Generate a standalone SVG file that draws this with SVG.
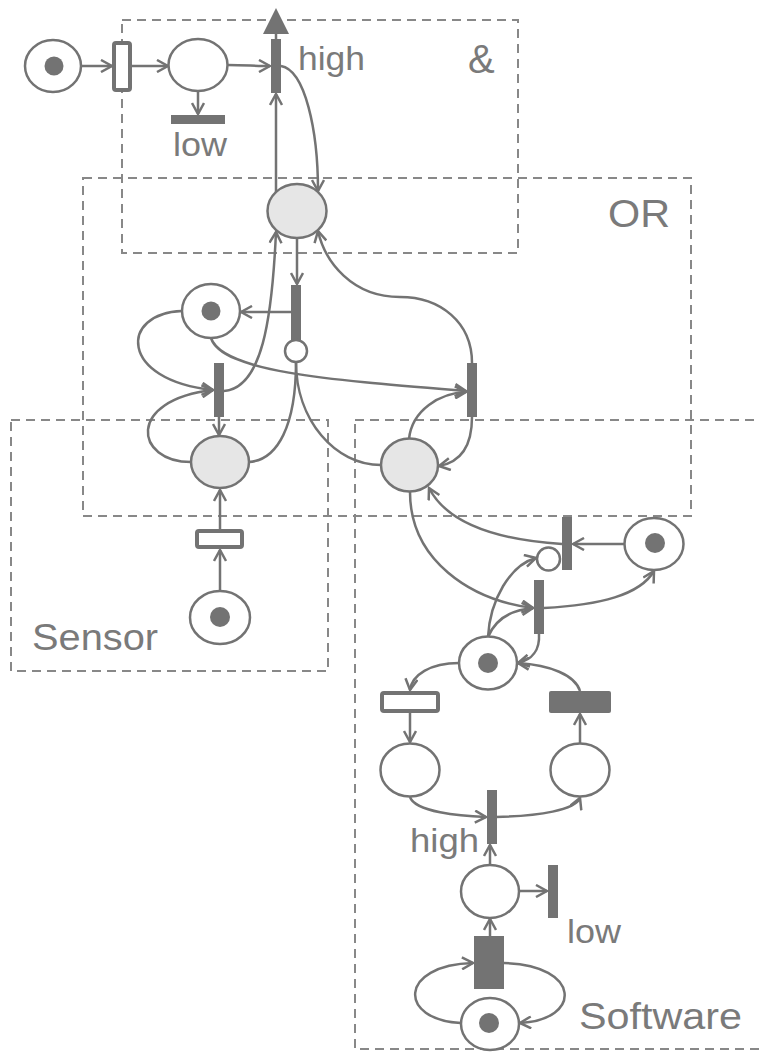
<svg xmlns="http://www.w3.org/2000/svg" width="760" height="1052" viewBox="0 0 760 1052">
<style>
.box{fill:none;stroke:#888;stroke-width:2;stroke-dasharray:9 6}
.pl{fill:#fff;stroke:#737373;stroke-width:2.5}
.sh{fill:#e6e6e6;stroke:#737373;stroke-width:2.5}
.tok{fill:#737373}
.bar{fill:#737373}
.hol{fill:#fff;stroke:#737373;stroke-width:4}
.inh{fill:#fff;stroke:#737373;stroke-width:2.5}
.c{fill:none;stroke:#737373;stroke-width:2.5}
.a{marker-end:url(#arr)}
.t{font-family:"Liberation Sans",Arial,sans-serif;fill:#7a7a7a}
</style>
<defs>
<marker id="arr" markerUnits="userSpaceOnUse" markerWidth="14" markerHeight="14" viewBox="0 0 14 14" refX="12" refY="7" orient="auto">
<path d="M1,1 L12,7 L1,13" fill="none" stroke="#737373" stroke-width="2.5"/>
</marker>
</defs>
<rect width="760" height="1052" fill="#fff"/>
<g id="groups">
<rect class="box" x="122" y="20" width="396" height="233"/>
<rect class="box" x="83" y="178" width="608" height="338"/>
<rect class="box" x="11" y="420" width="317" height="251"/>
<rect class="box" x="355" y="420" width="420" height="629"/>
<text class="t" x="468" y="73" font-size="40">&amp;</text>
<text class="t" x="608" y="227" font-size="38" textLength="62" lengthAdjust="spacingAndGlyphs">OR</text>
<text class="t" x="32" y="650" font-size="36" textLength="126" lengthAdjust="spacingAndGlyphs">Sensor</text>
<text class="t" x="579" y="1029" font-size="36" textLength="163" lengthAdjust="spacingAndGlyphs">Software</text>
</g>
<g id="connectors">
<path class="c a" d="M81,66 L112,66"/>
<path class="c a" d="M132,66 L168,66"/>
<path class="c a" d="M198,91 L198,114"/>
<path class="c a" d="M228,65 C245,65 255,66 270,66"/>
<path class="c" d="M276,39 L276,33"/>
<polygon points="263,34 289,34 276,8" fill="#737373"/>
<path class="c a" d="M276,192 L276,94"/>
<path class="c a" d="M281,66 C305,70 318,130 318,191"/>
<path class="c a" d="M297,238 L297,284"/>
<path class="c a" d="M291,312 L241,312"/>
<path class="c a" d="M182,311 C120,313 118,380 213,390"/>
<path class="c a" d="M191,462 C135,462 125,400 213,390"/>
<path class="c a" d="M219,417 L219,435"/>
<path class="c a" d="M224,391 C262,388 272,320 276,232"/>
<path class="c" d="M296,362 C296,425 278,460 249,462"/>
<path class="c" d="M296,362 C296,420 335,465 381,465"/>
<path class="c a" d="M211,338 C222,372 330,380 466,391"/>
<path class="c a" d="M409,439 C412,410 440,393 466,392"/>
<path class="c a" d="M472,417 C472,445 462,462 439,466"/>
<path class="c a" d="M472,363 C472,322 440,297 400,297 C352,297 325,262 318,231"/>
<path class="c a" d="M220,529 L220,490"/>
<path class="c a" d="M220,591 L220,550"/>
<path class="c a" d="M410,492 C410,560 470,600 533,608"/>
<path class="c a" d="M625,544 L573,544"/>
<path class="c a" d="M562,544 C500,540 448,525 429,488"/>
<path class="c a" d="M488,637 C490,600 510,565 536,558"/>
<path class="c a" d="M488,637 C495,620 510,610 533,608"/>
<path class="c a" d="M544,608 C600,605 640,595 654,571"/>
<path class="c a" d="M539,634 C540,650 532,660 518,663"/>
<path class="c a" d="M459,663 C430,663 412,675 410,690"/>
<path class="c a" d="M580,691 C575,675 550,665 518,663"/>
<path class="c a" d="M410,713 L410,742"/>
<path class="c a" d="M580,744 L580,714"/>
<path class="c a" d="M410,797 C415,812 460,816 486,817"/>
<path class="c a" d="M496,817 C540,816 575,810 580,798"/>
<path class="c a" d="M490,865 L490,845"/>
<path class="c a" d="M519,891 L547,891"/>
<path class="c a" d="M490,936 L490,919"/>
<path class="c a" d="M461,1023 C398,1020 398,965 473,963"/>
<path class="c a" d="M504,963 C582,965 582,1020 520,1023"/>
</g>
<g id="p_start"><ellipse class="pl" cx="53" cy="66" rx="28" ry="26"/><circle class="tok" cx="54" cy="66" r="9.5"/></g>
<g id="t_start"><rect class="hol" x="114" y="43" width="16" height="47" rx="2"/></g>
<g id="p_top"><ellipse class="pl" cx="198" cy="65" rx="29.5" ry="26"/></g>
<g id="t_low_top"><rect class="bar" x="171" y="115" width="54" height="9"/><text class="t" x="173" y="156" font-size="34" textLength="54" lengthAdjust="spacingAndGlyphs">low</text></g>
<g id="t_high_top"><rect class="bar" x="271" y="39" width="10" height="54"/><text class="t" x="298" y="70" font-size="34" textLength="67" lengthAdjust="spacingAndGlyphs">high</text></g>
<g id="p_or"><ellipse class="sh" cx="297" cy="211" rx="29.5" ry="27"/></g>
<g id="t_or"><rect class="bar" x="291" y="285" width="10" height="55"/><circle class="inh" cx="296" cy="351" r="11"/></g>
<g id="p_or_tok"><ellipse class="pl" cx="211" cy="311" rx="29" ry="27"/><circle class="tok" cx="211" cy="311" r="9.5"/></g>
<g id="t_sens_bar"><rect class="bar" x="214" y="363" width="10" height="54"/></g>
<g id="t_right_bar"><rect class="bar" x="467" y="363" width="10" height="54"/></g>
<g id="p_sens_shaded"><ellipse class="sh" cx="220" cy="462" rx="29" ry="26"/></g>
<g id="p_sw_shaded"><ellipse class="sh" cx="409.5" cy="465" rx="28.5" ry="26.5"/></g>
<g id="t_sens"><rect class="hol" x="197" y="531" width="45" height="16" rx="2"/></g>
<g id="p_sens_tok"><ellipse class="pl" cx="220" cy="617.5" rx="30" ry="26.5"/><circle class="tok" cx="220" cy="617" r="10"/></g>
<g id="t_sw_inh"><rect class="bar" x="562" y="517" width="10" height="53"/><circle class="inh" cx="548.5" cy="559" r="11.5"/></g>
<g id="p_sw_tok_r"><ellipse class="pl" cx="654" cy="544" rx="29.5" ry="26"/><circle class="tok" cx="655" cy="543" r="10"/></g>
<g id="t_sw_bar"><rect class="bar" x="534" y="580" width="10" height="54"/></g>
<g id="p_sw_mid"><ellipse class="pl" cx="488" cy="663" rx="29" ry="26.5"/><circle class="tok" cx="488" cy="663" r="10"/></g>
<g id="t_sw_hollow"><rect class="hol" x="382" y="693" width="56" height="18" rx="2"/></g>
<g id="t_sw_filled"><rect class="bar" x="549" y="691" width="62" height="22" rx="2"/></g>
<g id="p_sw_left"><ellipse class="pl" cx="410" cy="770" rx="29.5" ry="26.5"/></g>
<g id="p_sw_right"><ellipse class="pl" cx="580" cy="770" rx="29.5" ry="26.5"/></g>
<g id="t_sw_high"><rect class="bar" x="487" y="790" width="10" height="54"/><text class="t" x="410" y="852" font-size="34" textLength="69" lengthAdjust="spacingAndGlyphs">high</text></g>
<g id="p_sw_low"><ellipse class="pl" cx="490" cy="891.5" rx="29" ry="26.5"/></g>
<g id="t_sw_low"><rect class="bar" x="548" y="865" width="10" height="53"/><text class="t" x="567" y="943" font-size="34" textLength="54" lengthAdjust="spacingAndGlyphs">low</text></g>
<g id="t_sw_big"><rect class="bar" x="474" y="936" width="30" height="53"/></g>
<g id="p_sw_bottom"><ellipse class="pl" cx="490" cy="1024" rx="29" ry="26"/><circle class="tok" cx="489" cy="1023" r="10"/></g>
</svg>
